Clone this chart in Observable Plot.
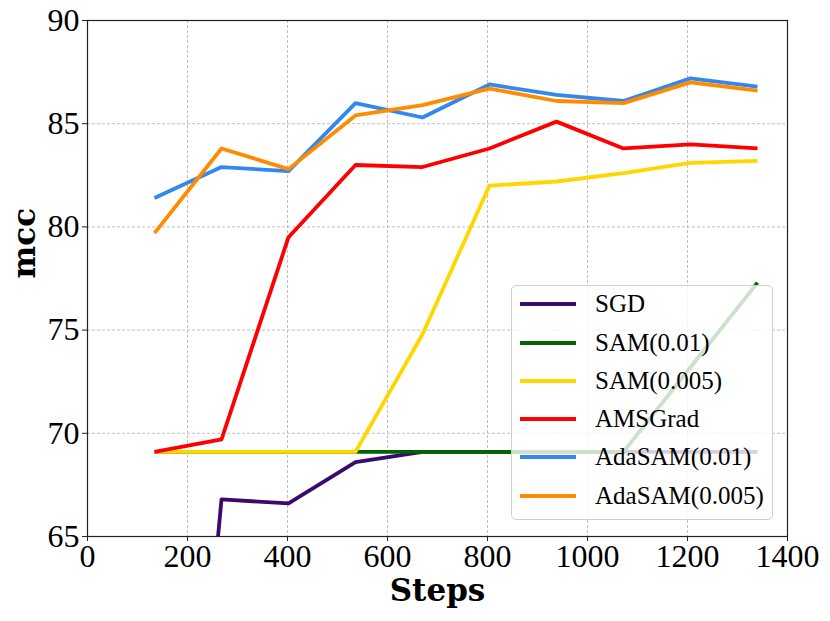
<!DOCTYPE html>
<html>
<head>
<meta charset="utf-8">
<script src="https://cdn.jsdelivr.net/npm/d3@7"></script>
<script src="https://cdn.jsdelivr.net/npm/@observablehq/plot@0.6"></script>
<style>
  html, body { margin: 0; padding: 0; background: #fff; }
  #wrap { position: relative; width: 830px; height: 621px; }
  #legend {
    position: absolute; left: 511px; top: 285px; width: 262px; height: 235px;
    background: rgba(255,255,255,0.8); border: 1px solid #d0d0d0; border-radius: 5px;
    box-sizing: border-box; color: #000;
  }
  .row { position: absolute; left: 0; height: 30px; }
  .sw { position: absolute; left: 8px; width: 56px; height: 4px; }
  .lab { position: absolute; left: 83px; top: 0; white-space: nowrap; line-height: 30px; }
</style>
</head>
<body>
<div id="wrap"></div>
<script>
const steps  = [134, 268, 402, 536, 670, 804, 938, 1072, 1206, 1340];
const sgd    = [32.0, 66.8, 66.6, 68.6, 69.1, 69.1, 69.1, 69.1, 69.1, 69.1];
const sam01  = [69.1, 69.1, 69.1, 69.1, 69.1, 69.1, 69.1, 69.1, 73.2, 77.3];
const sam005 = [69.1, 69.1, 69.1, 69.1, 74.8, 82.0, 82.2, 82.6, 83.1, 83.2];
const ams    = [69.1, 69.7, 79.5, 83.0, 82.9, 83.8, 85.1, 83.8, 84.0, 83.8];
const ada01  = [81.4, 82.9, 82.7, 86.0, 85.3, 86.9, 86.4, 86.1, 87.2, 86.8];
const ada005 = [79.7, 83.8, 82.8, 85.4, 85.9, 86.7, 86.1, 86.0, 87.0, 86.6];

const seriesNames  = ["SGD", "SAM(0.01)", "SAM(0.005)", "AMSGrad", "AdaSAM(0.01)", "AdaSAM(0.005)"];
const seriesValues = [sgd, sam01, sam005, ams, ada01, ada005];
const seriesColors = ["#3a0a6e", "#006400", "#FFD700", "#FF0000", "#3388EE", "#FF8C00"];

const xTicks = [0, 200, 400, 600, 800, 1000, 1200, 1400];
const yTicks = [65, 70, 75, 80, 85, 90];

const serif = "'Liberation Serif', serif";
const boldFont = "'DejaVu Serif', serif";

const lineMarks = seriesValues.map((vals, i) =>
  Plot.line(steps.map((s, j) => ({step: s, v: vals[j]})), {
    x: "step", y: "v", stroke: seriesColors[i], strokeWidth: 3.8,
    strokeLinejoin: "round", strokeLinecap: "butt", clip: true
  })
);

const chart = Plot.plot({
  width: 830, height: 621,
  marginLeft: 87, marginRight: 43, marginTop: 20, marginBottom: 85,
  style: {fontFamily: serif, fontSize: "32px", color: "#000", background: "#fff"},
  x: {domain: [0, 1400]},
  y: {domain: [65, 90]},
  marks: [
    Plot.gridX(xTicks, {stroke: "#b0b0b0", strokeOpacity: 1, strokeWidth: 0.8, strokeDasharray: "3,2"}),
    Plot.gridY(yTicks, {stroke: "#b0b0b0", strokeOpacity: 1, strokeWidth: 0.8, strokeDasharray: "3,2"}),
    ...lineMarks,
    Plot.frame({stroke: "#222", strokeWidth: 1.2}),
    Plot.axisX(xTicks, {tickSize: 5, tickPadding: 3, fontSize: 32, fontFamily: serif, label: null, stroke: "#222", tickFormat: d => String(d)}),
    Plot.axisY(yTicks, {tickSize: 5, tickPadding: 3, fontSize: 32, fontFamily: serif, label: null, stroke: "#222", tickFormat: d => String(d)}),
    Plot.text(["Steps"], {frameAnchor: "bottom", dy: 64, text: d => d, fontSize: 31, fontWeight: "bold", fontFamily: boldFont, fill: "#000"}),
    Plot.text(["mcc"], {frameAnchor: "left", dx: -62, rotate: -90, text: d => d, fontSize: 31, fontWeight: "bold", fontFamily: boldFont, fill: "#000"})
  ]
});

const wrap = document.getElementById("wrap");
wrap.appendChild(chart);

const legend = document.createElement("div");
legend.id = "legend";
const rowTops = [3, 41.5, 80, 118, 156, 195];
seriesNames.forEach((name, i) => {
  const row = document.createElement("div");
  row.className = "row";
  row.style.top = rowTops[i] + "px";
  const sw = document.createElement("div");
  sw.className = "sw";
  sw.style.background = seriesColors[i];
  sw.style.top = "13px";
  const lab = document.createElement("div");
  lab.className = "lab";
  lab.style.fontFamily = "'Liberation Serif', serif";
  lab.style.fontSize = "25px";
  lab.textContent = name;
  row.appendChild(sw);
  row.appendChild(lab);
  legend.appendChild(row);
});
wrap.appendChild(legend);
</script>
</body>
</html>
